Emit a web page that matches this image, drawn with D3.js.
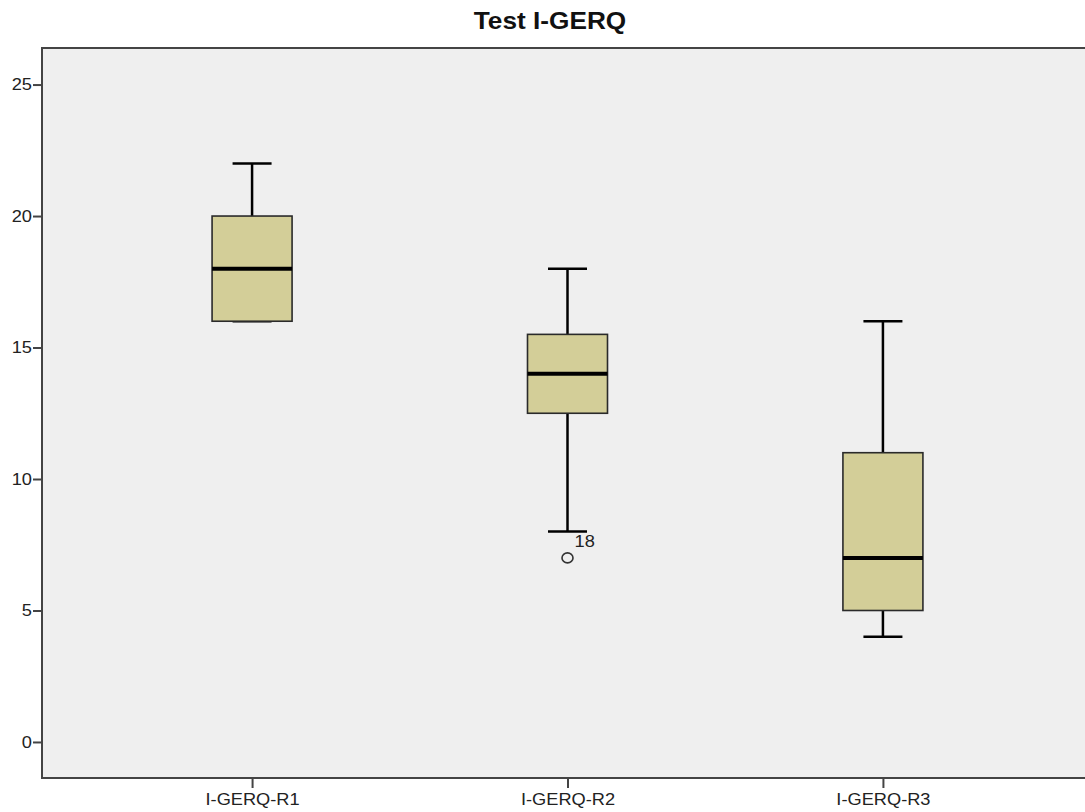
<!DOCTYPE html>
<html lang="en">
<head>
    <meta charset="UTF-8">
    <title>Test I-GERQ</title>
    <script src="https://d3js.org/d3.v7.min.js"></script>
    <style>
        body { margin: 0; background: #fff; font-family: "Liberation Sans", Arial, sans-serif; }
        .axis path, .axis line { stroke: #444; stroke-width: 2px; }
        .axis text { font-size: 16px; fill: #222; font-family: "Liberation Sans", Arial, sans-serif; }
    </style>
</head>
<body>
    <svg id="chart"></svg>
    <script>
        // chart values
        const categories = ["I-GERQ-R1", "I-GERQ-R2", "I-GERQ-R3"];
        const whiskerLow = [16, 8, 4];
        const q1 = [16, 12.5, 5];
        const median = [18, 14, 7];
        const q3 = [20, 15.5, 11];
        const whiskerHigh = [22, 18, 16];
        const outlierCats = ["I-GERQ-R2"];
        const outlierValues = [7];
        const outlierLabels = ["18"];
        const yTicks = [0, 5, 10, 15, 20, 25];

        const width = 1085, height = 812;
        const margin = { top: 48, right: -8, bottom: 34, left: 42 };
        const sx = 1.14; // text in the original is a bit stretched

        const svg = d3.select("#chart").attr("width", width).attr("height", height);

        const x = d3.scalePoint()
            .domain(categories)
            .range([margin.left, width - margin.right])
            .padding(0.666);

        const y = d3.scaleLinear()
            .domain([-1.37, 26.39])
            .range([height - margin.bottom, margin.top]);

        // plot frame
        svg.append("rect")
            .attr("x", margin.left).attr("y", margin.top)
            .attr("width", width - margin.right - margin.left)
            .attr("height", height - margin.bottom - margin.top)
            .attr("fill", "#efefef")
            .attr("stroke", "#444").attr("stroke-width", 2);

        // title
        svg.append("text")
            .attr("transform", `translate(550,29) scale(${sx},1)`)
            .attr("text-anchor", "middle")
            .style("font-size", "23px").style("font-weight", "bold").attr("fill", "#111")
            .text("Test I-GERQ");

        // axes
        const yAxis = svg.append("g").attr("class", "axis")
            .attr("transform", `translate(${margin.left},0)`)
            .call(d3.axisLeft(y).tickValues(yTicks).tickSize(9).tickPadding(0));
        yAxis.select(".domain").remove();
        yAxis.selectAll("text")
            .attr("x", -10 / sx)
            .attr("transform", `scale(${sx},1)`);

        const xAxis = svg.append("g").attr("class", "axis")
            .attr("transform", `translate(0,${height - margin.bottom})`)
            .call(d3.axisBottom(x).tickSize(10).tickPadding(0));
        xAxis.select(".domain").remove();
        xAxis.selectAll("text")
            .attr("y", 16)
            .attr("transform", `scale(${sx},1)`);

        // boxes
        const boxW = 80, capW = 39;
        const boxes = svg.append("g").selectAll("g")
            .data(categories)
            .join("g")
            .attr("transform", d => `translate(${x(d)},0)`);

        boxes.append("line")
            .attr("y1", (d, i) => y(whiskerLow[i])).attr("y2", (d, i) => y(whiskerHigh[i]))
            .attr("stroke", "#000").attr("stroke-width", 2.5);
        boxes.append("line")
            .attr("x1", -capW / 2).attr("x2", capW / 2)
            .attr("y1", (d, i) => y(whiskerHigh[i])).attr("y2", (d, i) => y(whiskerHigh[i]))
            .attr("stroke", "#000").attr("stroke-width", 2.5);
        boxes.append("line")
            .attr("x1", -capW / 2).attr("x2", capW / 2)
            .attr("y1", (d, i) => y(whiskerLow[i])).attr("y2", (d, i) => y(whiskerLow[i]))
            .attr("stroke", "#000").attr("stroke-width", 2.5);

        boxes.append("rect")
            .attr("x", -boxW / 2).attr("width", boxW)
            .attr("y", (d, i) => y(q3[i]))
            .attr("height", (d, i) => y(q1[i]) - y(q3[i]))
            .attr("fill", "#d3ce98")
            .attr("stroke", "#2a2a2a").attr("stroke-width", 1.6);

        boxes.append("line")
            .attr("x1", -boxW / 2).attr("x2", boxW / 2)
            .attr("y1", (d, i) => y(median[i])).attr("y2", (d, i) => y(median[i]))
            .attr("stroke", "#000").attr("stroke-width", 4);

        // outliers
        const out = svg.append("g").selectAll("g")
            .data(outlierValues)
            .join("g")
            .attr("transform", (d, i) => `translate(${x(outlierCats[i])},${y(d)})`);
        out.append("ellipse")
            .attr("rx", 5.5).attr("ry", 5)
            .attr("fill", "none").attr("stroke", "#333").attr("stroke-width", 1.6);
        out.append("text")
            .attr("transform", `translate(7,-11) scale(${sx},1)`)
            .style("font-size", "16px").attr("fill", "#222")
            .text((d, i) => outlierLabels[i]);
    </script>
</body>
</html>
